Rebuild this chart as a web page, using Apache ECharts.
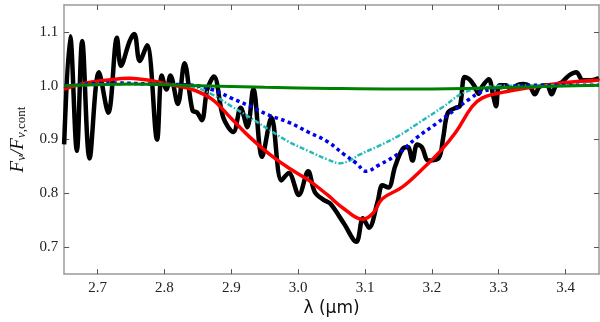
<!DOCTYPE html>
<html>
<head>
<meta charset="utf-8">
<script src="https://cdn.jsdelivr.net/npm/echarts@6/dist/echarts.min.js"></script>
<style>
  html, body { margin: 0; padding: 0; background: #fff; }
  #chart { width: 600px; height: 322px; }
</style>
</head>
<body>
<div id="chart"></div>
<script>
  // tick positions
  var xTicks = [2.7, 2.8, 2.9, 3.0, 3.1, 3.2, 3.3, 3.4];
  var yTicks = [0.7, 0.8, 0.9, 1.0, 1.1];

  // observed spectrum (black)
  var obsX = [2.650, 2.659, 2.669, 2.677, 2.688, 2.702, 2.716, 2.729, 2.735, 2.748, 2.755, 2.763, 2.774, 2.789,
    2.796, 2.803, 2.809, 2.820, 2.830, 2.842, 2.849, 2.856, 2.864, 2.874, 2.888, 2.903, 2.914, 2.924, 2.933,
    2.946, 2.960, 2.975, 2.986, 3.001, 3.015, 3.025, 3.038, 3.048, 3.068, 3.087, 3.097, 3.106, 3.119, 3.126,
    3.135, 3.145, 3.156, 3.164, 3.171, 3.178, 3.185, 3.195, 3.210, 3.217, 3.224, 3.236, 3.242, 3.249, 3.256,
    3.263, 3.270, 3.275, 3.285, 3.292, 3.296, 3.301, 3.311, 3.318, 3.328, 3.337, 3.347, 3.354, 3.361, 3.372,
    3.379, 3.386, 3.395, 3.405, 3.416, 3.426, 3.438, 3.450];
  var obsY = [0.891, 1.092, 0.879, 1.083, 0.865, 1.025, 0.950, 1.089, 1.037, 1.083, 1.096, 1.046, 1.075, 0.900,
    1.019, 0.993, 1.019, 0.966, 1.042, 0.954, 0.950, 0.936, 0.993, 1.017, 0.941, 0.914, 0.959, 0.923, 0.994,
    0.868, 0.941, 0.824, 0.838, 0.797, 0.841, 0.802, 0.788, 0.781, 0.745, 0.710, 0.754, 0.736, 0.785, 0.815,
    0.811, 0.850, 0.882, 0.886, 0.861, 0.891, 0.886, 0.861, 0.865, 0.904, 0.950, 0.959, 0.962, 1.016, 1.012,
    1.001, 0.985, 0.998, 1.012, 0.980, 0.962, 1.001, 1.001, 0.993, 1.001, 1.003, 0.998, 0.984, 0.998, 1.001,
    0.984, 1.001, 1.007, 1.019, 1.025, 1.010, 1.010, 1.014];

  // model (red)
  var redX = [2.650, 2.683, 2.712, 2.748, 2.777, 2.813, 2.842, 2.871, 2.900, 2.928, 2.957, 2.986, 3.015, 3.044,
    3.068, 3.097, 3.112, 3.126, 3.155, 3.184, 3.213, 3.236, 3.260, 3.275, 3.299, 3.333, 3.372, 3.409, 3.450];
  var redY = [0.994, 1.005, 1.010, 1.014, 1.010, 1.001, 0.993, 0.975, 0.939, 0.904, 0.873, 0.847, 0.825, 0.797,
    0.772, 0.752, 0.763, 0.790, 0.811, 0.843, 0.879, 0.914, 0.961, 0.977, 0.986, 0.994, 1.001, 1.007, 1.010];

  // model (green)
  var greenX = [2.65, 2.75, 2.85, 2.95, 3.05, 3.15, 3.25, 3.35, 3.45];
  var greenY = [1.000, 1.003, 1.000, 0.997, 0.995, 0.994, 0.995, 0.998, 1.001];

  // model (blue dotted)
  var blueX = [2.650, 2.726, 2.784, 2.842, 2.871, 2.900, 2.928, 2.957, 2.986, 3.015, 3.044, 3.068, 3.087, 3.102,
    3.120, 3.149, 3.178, 3.207, 3.232, 3.256, 3.275, 3.314, 3.372, 3.450];
  var blueY = [1.000, 1.005, 1.003, 1.001, 0.993, 0.977, 0.962, 0.945, 0.932, 0.914, 0.896, 0.873, 0.856, 0.841,
    0.852, 0.873, 0.904, 0.930, 0.953, 0.975, 0.989, 0.998, 1.001, 1.001];

  // model (cyan dash-dot)
  var cyanX = [2.650, 2.784, 2.842, 2.871, 2.900, 2.928, 2.957, 2.986, 3.015, 3.044, 3.063, 3.077, 3.092, 3.120,
    3.149, 3.178, 3.217, 3.246, 3.275, 3.314, 3.450];
  var cyanY = [1.000, 1.003, 0.998, 0.984, 0.962, 0.941, 0.918, 0.896, 0.879, 0.863, 0.856, 0.861, 0.872, 0.888,
    0.906, 0.929, 0.961, 0.986, 0.996, 1.000, 1.001];

  function pairs(xs, ys) {
    return xs.map(function (x, i) { return [x, ys[i]]; });
  }

  var frameLine = { color: '#9a9a9a', width: 1.5 };
  var serif = 'Liberation Serif';

  function xAx(pos, showLabels) {
    return {
      type: 'value', position: pos, min: 2.65, max: 3.45,
      axisLine: { show: true, onZero: false, lineStyle: frameLine },
      axisTick: { show: true, inside: true, length: 5, customValues: xTicks, lineStyle: { color: '#555', width: 1 } },
      axisLabel: {
        show: showLabels, customValues: xTicks, margin: 6, color: '#222', fontFamily: serif, fontSize: 15,
        formatter: function (v) { return v.toFixed(1); }
      },
      splitLine: { show: false },
      name: showLabels ? 'λ (μm)' : '', nameLocation: 'middle', nameGap: 25,
      nameTextStyle: { fontFamily: 'DejaVu Sans', fontSize: 17, color: '#111' }
    };
  }

  function yAx(pos, showLabels) {
    return {
      type: 'value', position: pos, min: 0.65, max: 1.15,
      axisLine: { show: true, onZero: false, lineStyle: frameLine },
      axisTick: { show: true, inside: true, length: 5, customValues: yTicks, lineStyle: { color: '#555', width: 1 } },
      axisLabel: {
        show: showLabels, customValues: yTicks, margin: 6, color: '#222', fontFamily: serif, fontSize: 15,
        formatter: function (v) { return v.toFixed(1); }
      },
      splitLine: { show: false },
      name: showLabels ? '{i|F}{s|ν}{i|/F}{s|ν}{r|,cont}' : '', nameLocation: 'middle', nameGap: 27,
      nameTextStyle: {
        rich: {
          i: { fontFamily: serif, fontStyle: 'italic', fontSize: 19, color: '#111' },
          s: { fontFamily: serif, fontStyle: 'italic', fontSize: 13, color: '#111', padding: [9, 0, 0, 0] },
          r: { fontFamily: serif, fontSize: 13, color: '#111', padding: [9, 0, 0, 0] }
        }
      }
    };
  }

  var chart = echarts.init(document.getElementById('chart'));
  chart.setOption({
    animation: false,
    backgroundColor: '#fff',
    grid: { left: 47, right: 1, top: 5, bottom: 37 },
    xAxis: [xAx('bottom', true), xAx('top', false)],
    yAxis: [yAx('left', true), yAx('right', false)],
    series: [
      {
        type: 'line', data: pairs(obsX, obsY), smooth: 0.35, showSymbol: false, z: 2,
        lineStyle: { color: '#000', width: 4.5 }
      },
      {
        type: 'line', data: pairs(redX, redY), smooth: 0.4, showSymbol: false, z: 3,
        lineStyle: { color: '#ff0000', width: 3.5 }
      },
      {
        type: 'line', data: pairs(cyanX, cyanY), smooth: 0.4, showSymbol: false, z: 4,
        lineStyle: { color: '#22bbbb', width: 2.5, type: [5, 2, 1.5, 2] }
      },
      {
        type: 'line', data: pairs(blueX, blueY), smooth: 0.4, showSymbol: false, z: 5,
        lineStyle: { color: '#0000ee', width: 3.5, type: [3.5, 3.5], cap: 'butt' }
      },
      {
        type: 'line', data: pairs(greenX, greenY), smooth: 0.4, showSymbol: false, z: 6,
        lineStyle: { color: '#008000', width: 3 }
      }
    ]
  });
</script>
</body>
</html>
